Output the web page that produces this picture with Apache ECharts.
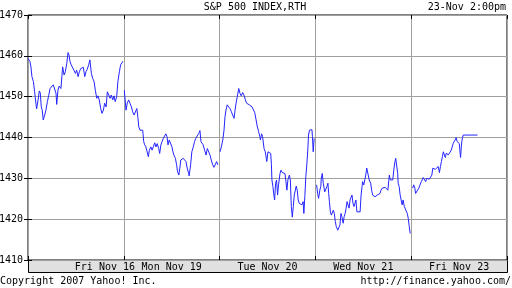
<!DOCTYPE html>
<html>
<head>
<meta charset="utf-8">
<script src="https://cdn.jsdelivr.net/npm/echarts@6/dist/echarts.min.js"></script>
<style>html,body{margin:0;padding:0;background:#fff}#c{width:512px;height:288px}</style>
</head>
<body>
<div id="c"></div>
<script>
// minutes since 9:30 open within each day, S&P 500 value
var dayLabels = ['Fri Nov 16', 'Mon Nov 19', 'Tue Nov 20', 'Wed Nov 21', 'Fri Nov 23'];
var yTicks = [1410, 1420, 1430, 1440, 1450, 1460, 1470];
var day1 = [[0,1459.4],[8,1458.6],[12,1457.3],[16,1454.9],[22,1453.7],[27,1451.2],[33,1448],[35,1447],[41,1449.2],[46,1451.4],[50,1450.9],[54,1447.5],[58,1446.7],[62,1444.3],[68,1445.5],[73,1446.7],[79,1448.8],[84,1450.2],[90,1452],[96,1452.3],[103,1452.9],[110,1453.1],[114,1450.8],[117,1448.1],[122,1451.6],[127,1452.6],[134,1452],[138,1454.9],[141,1457.3],[147,1455.3],[152,1456.1],[158,1458.2],[163,1460.8],[167,1460.2],[171,1458.6],[176,1457.8],[182,1458.2],[187,1456.5],[193,1455.7],[198,1456.5],[204,1454.9],[209,1456.1],[215,1456.9],[220,1456.5],[225,1457.2],[231,1454.9],[236,1456.1],[241,1456.7],[247,1457.8],[252,1459],[258,1455.7],[263,1454.5],[269,1453.7],[274,1451.6],[280,1449.6],[285,1450.2],[290,1449.2],[296,1447.1],[301,1445.9],[307,1446.7],[312,1448.4],[318,1447.5],[323,1451.2],[329,1450.4],[334,1449.6],[339,1450.4],[345,1449.2],[350,1450.2],[355,1448.8],[361,1450],[366,1453.7],[372,1456.1],[377,1457.8],[383,1458.3],[386,1458.7]];
var day2 = [[2,1451.6],[5,1449.6],[9,1446.7],[14,1448.4],[20,1449.2],[25,1448.4],[31,1447.5],[36,1446.3],[42,1445.5],[47,1445.1],[53,1447.1],[57,1445.1],[61,1442.6],[66,1441.8],[71,1441.4],[77,1441.8],[81,1439],[85,1438.2],[90,1437.7],[96,1437.3],[100,1435.3],[104,1436.9],[110,1437.7],[115,1436.9],[120,1437.7],[126,1438.7],[131,1437.7],[136,1438.5],[142,1437.3],[146,1436.1],[151,1438.2],[156,1439],[161,1439.8],[167,1440.2],[171,1440.9],[176,1440.2],[180,1438.2],[185,1439.4],[191,1439.8],[196,1437.7],[200,1436.5],[204,1435.7],[210,1434.9],[215,1433.3],[219,1431.6],[224,1430.8],[228,1432.5],[232,1434.5],[237,1434.9],[242,1434.9],[248,1435.1],[253,1434.1],[258,1432.5],[264,1431.2],[266,1430.6],[272,1433.3],[277,1436.5],[283,1437.7],[288,1439],[293,1439.8],[299,1439.4],[305,1441],[310,1441.7],[314,1439],[319,1439.4],[323,1438.2],[329,1436.9],[335,1435.7],[340,1437.3],[346,1436.9],[351,1435.7],[356,1434.5],[362,1433.3],[367,1432.7],[372,1433],[378,1434.1],[383,1433.3]];
var day3 = [[2,1436.5],[7,1437.7],[13,1439.4],[18,1441.8],[22,1445.1],[26,1446.7],[31,1448],[37,1448.4],[42,1447.1],[48,1446.3],[53,1445.5],[59,1444.7],[63,1446.7],[67,1448.4],[72,1450],[78,1452],[83,1450.8],[88,1450.2],[94,1451],[99,1450.4],[105,1449.2],[110,1448.4],[116,1448.8],[121,1448],[127,1448.4],[132,1447.5],[137,1447.3],[143,1446.1],[148,1444.5],[153,1442.8],[159,1441.4],[164,1440.2],[166,1439.4],[171,1440.9],[175,1440.2],[181,1437.3],[186,1436.5],[192,1434.1],[197,1436.5],[202,1436.9],[208,1436.1],[211,1433.3],[213,1429.6],[217,1428],[221,1425.9],[224,1424.7],[228,1428.8],[232,1429.6],[236,1425.9],[240,1428.4],[246,1431.2],[250,1432],[255,1431.4],[261,1431.6],[266,1431.2],[270,1429.2],[274,1427.1],[278,1429.6],[284,1430.8],[288,1429.6],[292,1423.1],[296,1420.5],[300,1423.1],[304,1425.9],[308,1426.3],[312,1428.1],[316,1427.1],[320,1424.7],[324,1423.9],[330,1423.9],[335,1423.5],[340,1424.3],[343,1421.4],[347,1425.5],[351,1430.4],[355,1433.3],[359,1436.9],[362,1440.6],[366,1441.8],[372,1441.8],[376,1441.9],[378,1440.2],[381,1436.5],[385,1439.8]];
var day4 = [[5,1428.4],[9,1426.3],[13,1425.1],[18,1427.1],[22,1428],[24,1430],[28,1431.2],[32,1428.8],[38,1426.7],[43,1426.3],[47,1428],[51,1428.8],[54,1426.3],[57,1424.3],[61,1421.8],[65,1421],[69,1421.4],[73,1422.2],[77,1421.4],[81,1419.4],[85,1418.2],[91,1417.3],[96,1416.9],[100,1418.6],[104,1421.4],[108,1420.6],[113,1419],[117,1420.6],[121,1421.4],[125,1422.7],[129,1424.3],[133,1423.9],[137,1422.7],[141,1424.7],[145,1424.3],[149,1425.9],[153,1423.9],[157,1423.1],[161,1423.9],[165,1424.7],[169,1421.8],[173,1422.2],[177,1421.8],[182,1421.8],[186,1425.9],[190,1428],[192,1429.2],[197,1428.4],[201,1429.6],[205,1430.8],[209,1432.5],[211,1432.7],[215,1430.8],[219,1429.6],[225,1428.8],[229,1427.1],[233,1425.9],[239,1425.9],[243,1425.5],[247,1425.1],[252,1425.9],[258,1425.9],[263,1426.3],[267,1427.1],[272,1427.6],[278,1427.6],[284,1427.8],[290,1427.6],[295,1427.1],[299,1429.6],[301,1430.8],[305,1429.6],[309,1430],[315,1429.6],[319,1432],[323,1433.8],[327,1434.9],[331,1434.5],[335,1431.2],[337,1428.8],[341,1428],[345,1425.9],[349,1425.5],[353,1423.5],[357,1424.7],[362,1423.1],[366,1423.5],[370,1423.1],[374,1421.4],[378,1420.2],[382,1418.2],[386,1416.5]];
var day5 = [[6,1427.6],[10,1428.4],[14,1427.9],[18,1426.3],[22,1425.9],[26,1426.7],[31,1427.6],[36,1428.4],[41,1429.2],[45,1429.6],[49,1430.2],[55,1430],[59,1429.2],[63,1430],[68,1430.2],[74,1429.8],[79,1429.6],[84,1430.8],[88,1432.5],[93,1432.5],[98,1432.2],[104,1432.5],[110,1432.9],[115,1431.4],[119,1432.9],[123,1434.1],[127,1435.3],[131,1436.5],[135,1435.7],[139,1435.1],[143,1436.2],[147,1436.5],[151,1435.7],[155,1435.5],[159,1436.1],[163,1436.9],[167,1437.7],[171,1438.6],[175,1439],[179,1439.4],[183,1440],[187,1439],[191,1439.4],[196,1438.5],[198,1436.9],[201,1435.1],[204,1437.7],[206,1439],[209,1440],[212,1440.6],[270,1440.6]];
var days = [day1, day2, day3, day4, day5];
var DAY_MIN = 390;

var FONT = 'DejaVu Sans Mono';
var chart = echarts.init(document.getElementById('c'));
var series = days.map(function (d, i) {
  return {
    type: 'line', xAxisIndex: 0, yAxisIndex: 0,
    data: d.map(function (p) { return [i * DAY_MIN + p[0], p[1]]; }),
    showSymbol: false, symbol: 'none', animation: false,
    lineStyle: { color: '#2424ff', width: 1 }, itemStyle: { color: '#2424ff' }
  };
});
var txt = { fontFamily: FONT, fontSize: 10, fontWeight: 'normal', color: '#000' };
var tickStyle = { show: true, inside: true, length: 4, lineStyle: { color: '#000', width: 1 } };
chart.setOption({
  animation: false,
  backgroundColor: '#fff',
  title: [
    { text: 'S&P 500 INDEX,RTH', left: 255, top: 2, padding: 0, textAlign: 'center', textStyle: txt },
    { text: '23-Nov 2:00pm', right: 6, top: 2, padding: 0, textStyle: txt },
    { text: 'Copyright 2007 Yahoo! Inc.', left: 0, top: 276, padding: 0, textStyle: txt },
    { text: 'http://finance.yahoo.com/', right: 1, top: 276, padding: 0, textStyle: txt }
  ],
  graphic: [
    { type: 'rect', shape: { x: 28.5, y: 260.5, width: 479, height: 12 }, style: { fill: '#e0e0e0', stroke: '#000', lineWidth: 1 }, z: 0 }
  ],
  grid: { left: 28, right: 5, top: 15, bottom: 28, containLabel: false, outerBoundsMode: 'none',
    show: true, borderColor: '#000', borderWidth: 1, backgroundColor: 'transparent' },
  xAxis: [
    { type: 'value', min: 0, max: 5 * DAY_MIN, interval: DAY_MIN, position: 'bottom',
      axisLine: { show: false }, axisTick: tickStyle, axisLabel: { show: false },
      splitLine: { show: true, lineStyle: { color: '#a0a0a0', width: 1 } } },
    { type: 'value', min: 0, max: 5 * DAY_MIN, interval: DAY_MIN, position: 'top',
      axisLine: { show: false }, axisTick: tickStyle, axisLabel: { show: false }, splitLine: { show: false } },
    { type: 'category', data: dayLabels, position: 'bottom', boundaryGap: true,
      axisLine: { show: false }, axisTick: { show: false }, splitLine: { show: false },
      axisLabel: { margin: 2, fontFamily: FONT, fontSize: 10, color: '#000', interval: 0,
        formatter: function (v, i) { return i === 0 ? '{a|' + v + '}' : v; },
        rich: { a: { fontFamily: FONT, fontSize: 10, color: '#000', padding: [0, 0, 0, 58] } } } }
  ],
  yAxis: [
    { type: 'value', min: yTicks[0], max: yTicks[yTicks.length - 1], interval: 10, position: 'left',
      axisLine: { show: false }, axisTick: tickStyle,
      axisLabel: { margin: 5, fontFamily: FONT, fontSize: 10, color: '#000', formatter: function (v) { return String(v); } },
      splitLine: { show: true, lineStyle: { color: '#a0a0a0', width: 1 } } },
    { type: 'value', min: yTicks[0], max: yTicks[yTicks.length - 1], interval: 10, position: 'right',
      axisLine: { show: false }, axisTick: tickStyle, axisLabel: { show: false }, splitLine: { show: false } }
  ],
  series: series
});
</script>
</body>
</html>
